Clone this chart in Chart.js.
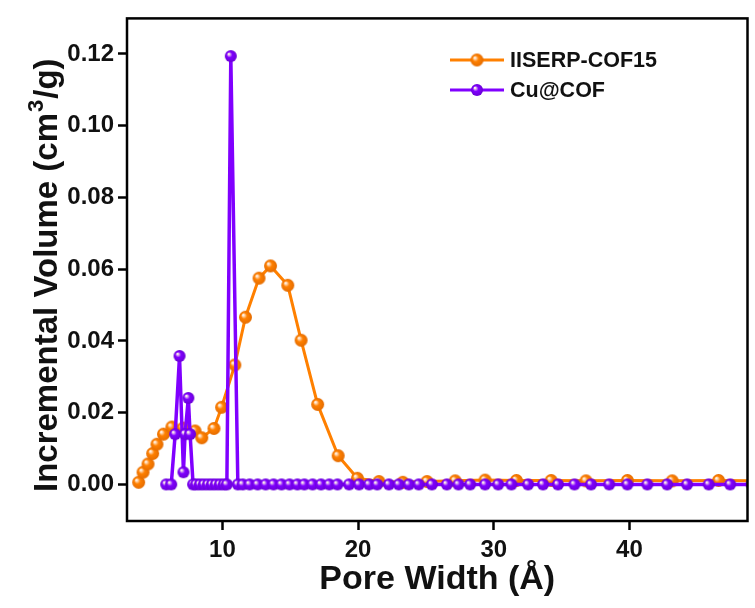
<!DOCTYPE html>
<html lang="en">
<head>
    <meta charset="UTF-8">
    <title>Pore width distribution</title>
    <script src="https://cdn.jsdelivr.net/npm/chart.js"></script>
    <style>
        html, body { margin: 0; padding: 0; background: #fff; }
        #wrap { width: 755px; height: 608px; }
    </style>
</head>
<body>
    <div id="wrap"><canvas id="myChart" width="755" height="608"></canvas></div>
<script>
    // pore width (A) and incremental volume (cm3/g)
    const cofX = [3.83, 4.15, 4.52, 4.86, 5.18, 5.66, 6.28, 7.11, 7.99, 8.48, 9.38, 9.94, 10.92, 11.70, 12.70, 13.55, 14.82, 15.80, 17.02, 18.53, 19.95, 21.54, 23.3, 25.08, 27.16, 29.36, 31.67, 34.23, 36.8, 39.85, 43.15, 46.57, 50.26];
    const cofY = [0.0006, 0.0034, 0.0057, 0.0086, 0.0112, 0.0140, 0.0160, 0.0157, 0.0149, 0.0130, 0.0156, 0.0215, 0.0333, 0.0466, 0.0575, 0.0609, 0.0555, 0.0402, 0.0223, 0.0080, 0.0017, 0.0008, 0.0006, 0.0008, 0.0010, 0.0012, 0.0011, 0.0011, 0.0010, 0.0011, 0.0010, 0.0011, 0.0010];

    const cuX = [5.86, 6.23, 6.52, 6.84, 7.13, 7.25, 7.49, 7.62, 7.84, 8.06, 8.35, 8.64, 8.94, 9.23, 9.52, 9.82, 10.11, 10.33, 10.62, 11.14, 11.5, 12.01, 12.6, 13.19, 13.77, 14.36, 14.95, 15.53, 16.04, 16.65, 17.27, 17.88, 18.48, 19.34, 20.07, 20.81, 21.41, 22.27, 23.0, 23.74, 24.47, 25.44, 26.54, 27.4, 28.26, 29.36, 30.33, 31.3, 32.53, 33.63, 34.73, 35.95, 37.17, 38.51, 39.85, 41.32, 42.78, 44.25, 45.84, 47.42, 49.0];
    const cuY = [0, 0, 0.014, 0.0358, 0.0034, 0.014, 0.0241, 0.014, 0, 0, 0, 0, 0, 0, 0, 0, 0, 0, 0.1194, 0, 0, 0, 0, 0, 0, 0, 0, 0, 0, 0, 0, 0, 0, 0, 0, 0, 0, 0, 0, 0, 0, 0, 0, 0, 0, 0, 0, 0, 0, 0, 0, 0, 0, 0, 0, 0, 0, 0, 0, 0, 0];

    const seriesNames = ['IISERP-COF15', 'Cu@COF'];
    const xTicks = [10, 20, 30, 40];
    const yTicks = [0, 0.02, 0.04, 0.06, 0.08, 0.10, 0.12];

    const ORANGE = '#ff8000', PURPLE = '#8000ff';
    const FONT = '"Liberation Sans", Arial, sans-serif';

    // shaded ball used as marker
    function ball(color, dark, r) {
        const c = document.createElement('canvas');
        const s = Math.ceil(r * 2 + 2);
        c.width = s; c.height = s;
        const g = c.getContext('2d');
        const m = s / 2;
        const grd = g.createRadialGradient(m - r * 0.35, m - r * 0.35, r * 0.1, m, m, r);
        grd.addColorStop(0, '#fff3e8');
        grd.addColorStop(0.4, color);
        grd.addColorStop(1, dark);
        g.fillStyle = grd;
        g.beginPath();
        g.arc(m, m, r, 0, Math.PI * 2);
        g.fill();
        return c;
    }
    const ballO = ball(ORANGE, '#e46c00', 6.5);
    const ballP = ball(PURPLE, '#6a00d6', 6);

    function pts(xs, ys) {
        return xs.map((x, i) => ({x: x, y: ys[i]}));
    }

    const framePlugin = {
        id: 'frame',
        afterDraw(chart) {
            const {ctx, chartArea: a} = chart;
            ctx.save();
            ctx.strokeStyle = '#000';
            ctx.lineWidth = 2.5;
            ctx.strokeRect(a.left, a.top, a.right - a.left, a.bottom - a.top);

            // y title with superscript
            ctx.translate(57, 492);
            ctx.rotate(-Math.PI / 2);
            ctx.fillStyle = '#111';
            ctx.textBaseline = 'alphabetic';
            ctx.font = 'bold 33px ' + FONT;
            const t1 = 'Incremental Volume (cm';
            ctx.fillText(t1, 0, 0);
            let w = ctx.measureText(t1).width;
            ctx.font = 'bold 22px ' + FONT;
            ctx.fillText('3', w + 1, -14);
            w += ctx.measureText('3').width + 2;
            ctx.font = 'bold 33px ' + FONT;
            ctx.fillText('/g)', w, 0);
            ctx.restore();

            // legend
            const items = [[ORANGE, ballO, 60], [PURPLE, ballP, 90]];
            ctx.save();
            ctx.font = 'bold 21.5px ' + FONT;
            ctx.textBaseline = 'middle';
            items.forEach((it, i) => {
                ctx.strokeStyle = it[0];
                ctx.lineWidth = 3;
                ctx.beginPath();
                ctx.moveTo(450, it[2]);
                ctx.lineTo(504, it[2]);
                ctx.stroke();
                ctx.drawImage(it[1], 477 - it[1].width / 2, it[2] - it[1].height / 2);
                ctx.fillStyle = '#111';
                ctx.fillText(seriesNames[i], 510, it[2] + 1);
            });
            ctx.restore();
        }
    };

    const ctx = document.getElementById('myChart');
    const chart = new Chart(ctx, {
        type: 'line',
        data: {
            datasets: [{
                label: seriesNames[0],
                data: pts(cofX, cofY),
                borderColor: ORANGE,
                borderWidth: 3,
                pointStyle: ballO,
                order: 2,
                clip: 0
            }, {
                label: seriesNames[1],
                data: pts(cuX, cuY),
                borderColor: PURPLE,
                borderWidth: 3.5,
                pointStyle: ballP,
                order: 1,
                clip: 0
            }]
        },
        options: {
            responsive: false,
            animation: false,
            layout: { padding: { top: 13, right: 4, left: 0, bottom: 0 } },
            plugins: {
                legend: { display: false },
                tooltip: { enabled: false }
            },
            scales: {
                x: {
                    type: 'linear',
                    min: 2.97,
                    max: 48.7,
                    afterBuildTicks: s => { s.ticks = xTicks.map(v => ({value: v})); },
                    afterFit: s => { s.height = 87; },
                    grid: { drawOnChartArea: false, tickLength: 9, tickWidth: 2.5, tickColor: '#000' },
                    border: { display: false },
                    ticks: { color: '#111', padding: 6, font: { family: FONT, size: 24, weight: 'bold' } },
                    title: {
                        display: true,
                        text: 'Pore Width (Å)',
                        color: '#111',
                        padding: { top: 0, bottom: 8 },
                        font: { family: FONT, size: 34, weight: 'bold' }
                    }
                },
                y: {
                    min: -0.0102,
                    max: 0.1299,
                    afterBuildTicks: s => { s.ticks = yTicks.map(v => ({value: v})); },
                    afterFit: s => { s.width = 127; },
                    grid: { drawOnChartArea: false, tickLength: 9, tickWidth: 2.5, tickColor: '#000' },
                    border: { display: false },
                    ticks: {
                        color: '#111',
                        padding: 4,
                        font: { family: FONT, size: 24, weight: 'bold' },
                        callback: v => v.toFixed(2)
                    }
                }
            }
        },
        plugins: [framePlugin]
    });
</script>
</body>
</html>
